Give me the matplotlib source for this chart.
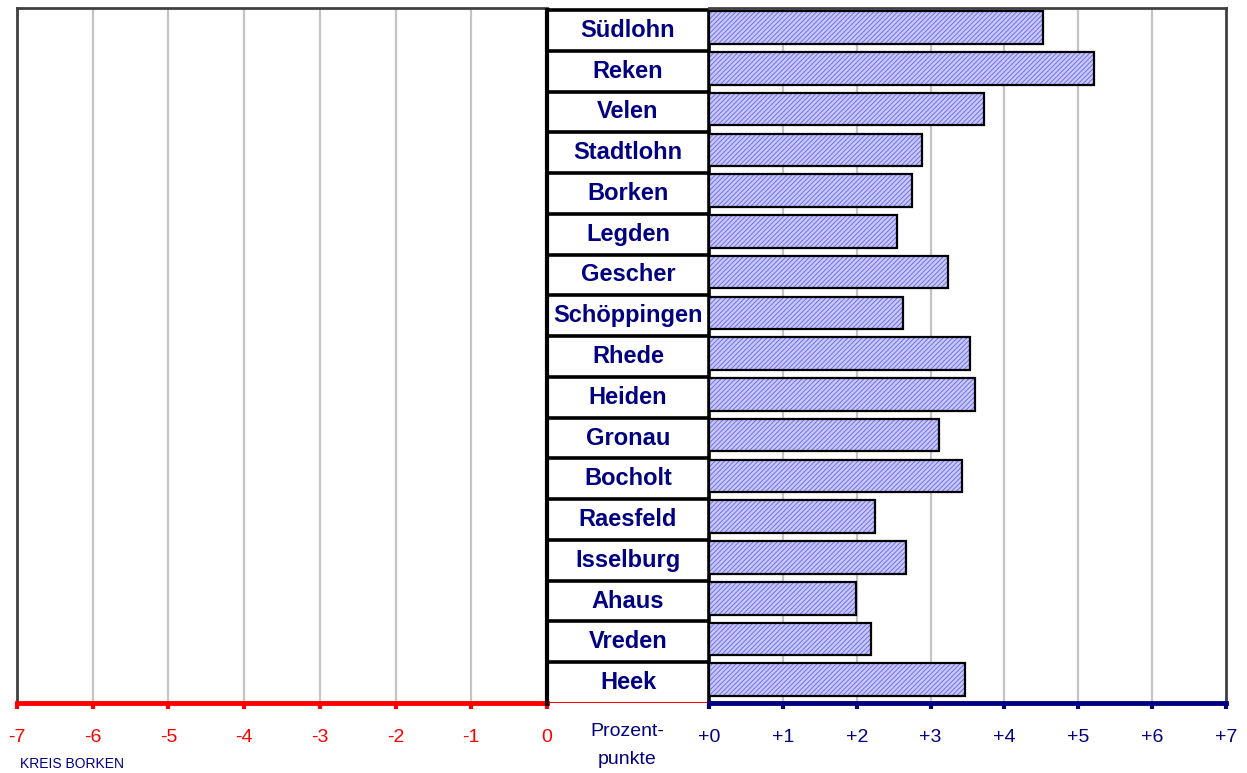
import numpy as np
import matplotlib
matplotlib.use("Agg")
import matplotlib.pyplot as plt

# Gemeinden, top to bottom, and change in percentage points
GEMEINDEN = ["Südlohn", "Reken", "Velen", "Stadtlohn", "Borken", "Legden",
             "Gescher", "Schöppingen", "Rhede", "Heiden", "Gronau", "Bocholt",
             "Raesfeld", "Isselburg", "Ahaus", "Vreden", "Heek"]
WERTE = [4.52, 5.21, 3.73, 2.89, 2.75, 2.55, 3.23, 2.62, 3.54, 3.60,
         3.12, 3.43, 2.25, 2.67, 1.99, 2.20, 3.46]
NEG_TICKS = [-7, -6, -5, -4, -3, -2, -1, 0]
POS_TICKS = [0, 1, 2, 3, 4, 5, 6, 7]
POS_LABELS = ["+0", "+1", "+2", "+3", "+4", "+5", "+6", "+7"]

NAVY = "#000080"
RED = "#ff0000"
FRAME = "#404040"
GRID = "#c4c4c4"

plt.rcParams.update({"font.family": ["Liberation Sans", "DejaVu Sans"],
                     "hatch.linewidth": 0.7})

W, H = 1247, 773
fig = plt.figure(figsize=(W / 100, H / 100), dpi=100)


def box(x0, x1, y0=8, y1=703):
    return [x0 / W, 1 - y1 / H, (x1 - x0) / W, (y1 - y0) / H]


ax_l = fig.add_axes(box(17, 547))
ax_m = fig.add_axes(box(547, 709))
ax_r = fig.add_axes(box(709, 1226))

n = len(GEMEINDEN)
ypos = np.arange(n)
for ax in (ax_l, ax_m, ax_r):
    ax.set_ylim(n - 0.5, -0.55)
    ax.set_yticks([])
    ax.patch.set_alpha(0)

# ---- left (negative) axis
ax_l.set_xlim(-7, 0)
for v in NEG_TICKS[1:-1]:
    ax_l.axvline(v, color=GRID, lw=1.6, zorder=0)
ax_l.set_xticks(NEG_TICKS)
ax_l.set_xticklabels([str(t) for t in NEG_TICKS], fontsize=14)
ax_l.tick_params(axis="x", colors=RED, length=4, width=3, pad=15)
for s in ("top", "left"):
    ax_l.spines[s].set_color(FRAME)
    ax_l.spines[s].set_linewidth(2)
ax_l.spines["right"].set_visible(False)
ax_l.spines["bottom"].set_color(RED)
ax_l.spines["bottom"].set_linewidth(3.5)

# ---- right (positive) axis with bars
ax_r.set_xlim(0, 7)
for v in POS_TICKS[1:-1]:
    ax_r.axvline(v, color=GRID, lw=1.6, zorder=0)
bar_y = ypos - 0.07
ax_r.barh(bar_y, WERTE, height=0.8, color="#c8c8ff", edgecolor="#7070e4",
          hatch="///////", linewidth=0, zorder=2)
ax_r.barh(bar_y, WERTE, height=0.8, fill=False, edgecolor="black",
          linewidth=1.6, zorder=3)
ax_r.set_xticks(POS_TICKS)
ax_r.set_xticklabels(POS_LABELS, fontsize=14)
ax_r.tick_params(axis="x", colors=NAVY, length=4, width=3, pad=15)
for s in ("top", "right"):
    ax_r.spines[s].set_color(FRAME)
    ax_r.spines[s].set_linewidth(2)
ax_r.spines["left"].set_visible(False)
ax_r.spines["bottom"].set_color(NAVY)
ax_r.spines["bottom"].set_linewidth(3.5)

# ---- middle label column
ax_m.set_xlim(0, 1)
ax_m.set_xticks([])
for s in ax_m.spines.values():
    s.set_visible(False)
ax_m.hlines(ypos - 0.5, 0, 1, color="black", lw=2.6, zorder=3)
ax_m.hlines(n - 0.5, 0, 1, color=RED, lw=2.2, zorder=3)
ax_m.vlines(0, -0.55, n - 0.42, color="black", lw=3, clip_on=False, zorder=4)
ax_m.vlines(1, -0.5, n - 0.5, color="black", lw=2.6, clip_on=False, zorder=4)
for y, name in zip(ypos, GEMEINDEN):
    ax_m.text(0.5, y, name, ha="center", va="center", color=NAVY,
              fontsize=17, fontweight="bold")

fig.text(627 / W, 1 - 731 / H, "Prozent-", ha="center", va="center",
         color=NAVY, fontsize=14)
fig.text(627 / W, 1 - 760 / H, "punkte", ha="center", va="center",
         color=NAVY, fontsize=14)
fig.text(20 / W, 1 - 771 / H, "KREIS BORKEN", ha="left", va="bottom",
         color=NAVY, fontsize=10)

fig.savefig("out.png", dpi=100)
